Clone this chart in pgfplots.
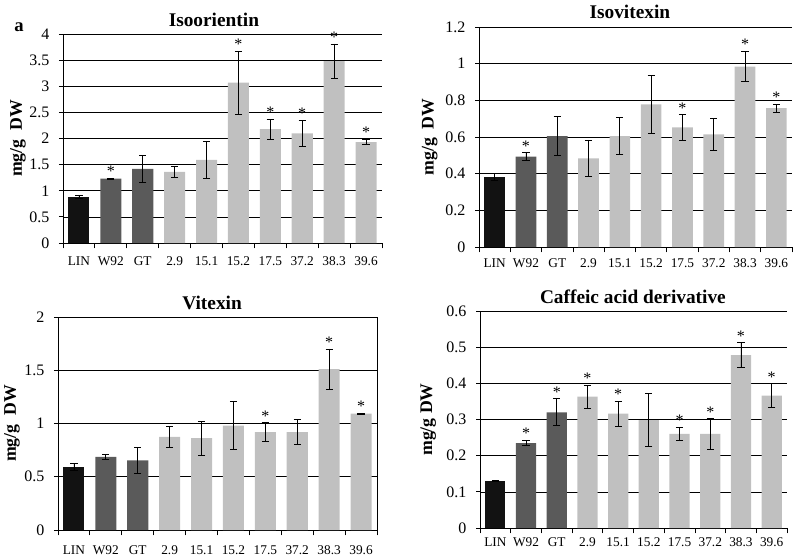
\documentclass[border=0pt]{standalone}
\usepackage{fontspec}
\setmainfont{Liberation Serif}
\usepackage{pgfplots}
\pgfplotsset{compat=1.18}
\definecolor{cblack}{HTML}{121212}
\definecolor{cdark}{HTML}{5A5A5A}
\definecolor{clight}{HTML}{C0C0C0}
\pgfplotsset{
  panel/.style={
    scale only axis,
    /pgf/number format/assume math mode=true,
    xmin=-0.5, xmax=9.5, ymin=0,
    xtick={0,...,9},
    xticklabels={LIN,W92,GT,2.9,15.1,15.2,17.5,37.2,38.3,39.6},
    major x tick style={draw=none},
    minor xtick={-0.5,0.5,...,9.5},
    minor x tick style={draw=black, line width=0.6pt},
    minor tick length=4pt,
    major tick length=3pt,
    tick align=outside,
    ymajorgrids,
    major grid style={black, line width=0.5pt},
    axis line style={black, line width=0.6pt},
    ytick style={black, line width=0.6pt},
    yticklabel style={font=\fontsize{12}{12}\selectfont, inner sep=2pt, xshift=-5pt},
    xticklabel style={font=\fontsize{10}{10}\selectfont},
    title style={font=\bfseries\fontsize{14.5}{14.5}\selectfont, anchor=base, yshift=0pt},
    ylabel style={font=\bfseries\fontsize{13.3}{13.3}\selectfont, anchor=center, rotate=0},
    ylabel={mg/g\ \ DW},
  },
  errs/.style={error bars/.cd, y dir=both, y explicit,
    error bar style={line width=0.6pt, black},
    error mark options={rotate=90, mark size=2.7pt, line width=0.6pt, black}},
  barbase/.style={ybar, bar width=0.66, bar shift=0pt, draw=none},
  barL/.style={barbase, fill=cblack, errs},
  barD/.style={barbase, fill=cdark, errs},
  barG/.style={barbase, fill=clight, errs},
  stars/.style={only marks, mark=*, mark size=0pt, mark options={draw=none, fill=none},
    nodes near coords={*},
    every node near coord/.append style={anchor=south, inner sep=1pt, font=\fontsize{12}{12}\selectfont, text=black}},
}
\begin{document}
\begin{tikzpicture}
\useasboundingbox (0,0) rectangle (596.25pt,418.5pt);
\node[anchor=base, font=\bfseries\fontsize{14}{14}\selectfont] at (14.25pt,394.5pt) {a};
% Panel 1 Isoorientin
\begin{axis}[panel, at={(47.25pt,236.25pt)}, anchor=south west,
  width=239.25pt, height=156.75pt, ymax=4, ytick={0,0.5,...,4},
  axis x line*=bottom, axis y line*=left,
  xticklabel style={yshift=-4pt},
  title={Isoorientin}, title style={at={(axis description cs:0.473,1)}},
  ylabel style={at={(axis description cs:-0.141,0.5)}}]
\addplot[barL] coordinates {(0,0.89) +- (0,0.03)};
\addplot[barD] coordinates {(1,1.23) +- (0,0.01) (2,1.42) +- (0,0.26)};
\addplot[barG] coordinates {(3,1.36) +- (0,0.10) (4,1.59) +- (0,0.35) (5,3.07) +- (0,0.60)
  (6,2.18) +- (0,0.19) (7,2.10) +- (0,0.25) (8,3.48) +- (0,0.33) (9,1.93) +- (0,0.05)};
\addplot[stars] coordinates {(1,1.24) (5,3.67) (6,2.37) (7,2.35) (8,3.81) (9,1.98)};
\end{axis}
% Panel 2 Isovitexin
\begin{axis}[panel, at={(359.25pt,233.25pt)}, anchor=south west,
  width=234.75pt, height=165pt, ymax=1.2, ytick={0,0.2,...,1.2},
  axis x line*=bottom, axis y line*=left,
  xticklabel style={yshift=-2.5pt},
  title={Isovitexin}, title style={at={(axis description cs:0.482,1)}},
  ylabel style={at={(axis description cs:-0.157,0.5)}}]
\addplot[barL] coordinates {(0,0.384) +- (0,0.018)};
\addplot[barD] coordinates {(1,0.493) +- (0,0.021) (2,0.605) +- (0,0.107)};
\addplot[barG] coordinates {(3,0.484) +- (0,0.10) (4,0.605) +- (0,0.10) (5,0.778) +- (0,0.16)
  (6,0.652) +- (0,0.07) (7,0.614) +- (0,0.088) (8,0.984) +- (0,0.082) (9,0.757) +- (0,0.021)};
\addplot[stars] coordinates {(1,0.514) (6,0.722) (8,1.066) (9,0.778)};
\end{axis}
% Panel 3 Vitexin
\begin{axis}[panel, at={(43.5pt,21pt)}, anchor=south west,
  width=239.25pt, height=159.75pt, ymax=2, ytick={0,0.5,...,2},
  xtick pos=bottom, ytick pos=left,
  xticklabel style={yshift=-5pt},
  title={Vitexin}, title style={at={(axis description cs:0.483,1)}},
  ylabel style={at={(axis description cs:-0.144,0.5)}}]
\addplot[barL] coordinates {(0,0.594) +- (0,0.03)};
\addplot[barD] coordinates {(1,0.686) +- (0,0.025) (2,0.655) +- (0,0.12)};
\addplot[barG] coordinates {(3,0.875) +- (0,0.10) (4,0.862) +- (0,0.157) (5,0.98) +- (0,0.225)
  (6,0.92) +- (0,0.086) (7,0.918) +- (0,0.118) (8,1.51) +- (0,0.19) (9,1.093) +- (0,0.003)};
\addplot[stars] coordinates {(6,1.006) (8,1.70) (9,1.096)};
\end{axis}
% Panel 4 Caffeic acid derivative
\begin{axis}[panel, at={(360pt,22.5pt)}, anchor=south west,
  width=230.25pt, height=162.75pt, ymax=0.6, ytick={0,0.1,...,0.6},
  axis x line*=bottom, axis y line*=left,
  xticklabel style={yshift=-1pt},
  title={Caffeic acid derivative}, title style={at={(axis description cs:0.498,1)}},
  ylabel={mg/g DW},
  ylabel style={at={(axis description cs:-0.169,0.5)}}]
\addplot[barL] coordinates {(0,0.130) +- (0,0.002)};
\addplot[barD] coordinates {(1,0.235) +- (0,0.007) (2,0.320) +- (0,0.037)};
\addplot[barG] coordinates {(3,0.363) +- (0,0.031) (4,0.316) +- (0,0.034) (5,0.298) +- (0,0.073)
  (6,0.260) +- (0,0.019) (7,0.260) +- (0,0.042) (8,0.478) +- (0,0.034) (9,0.366) +- (0,0.033)};
\addplot[stars] coordinates {(1,0.242) (2,0.357) (3,0.394) (4,0.350) (6,0.279) (7,0.302) (8,0.512) (9,0.399)};
\end{axis}
\end{tikzpicture}
\end{document}
